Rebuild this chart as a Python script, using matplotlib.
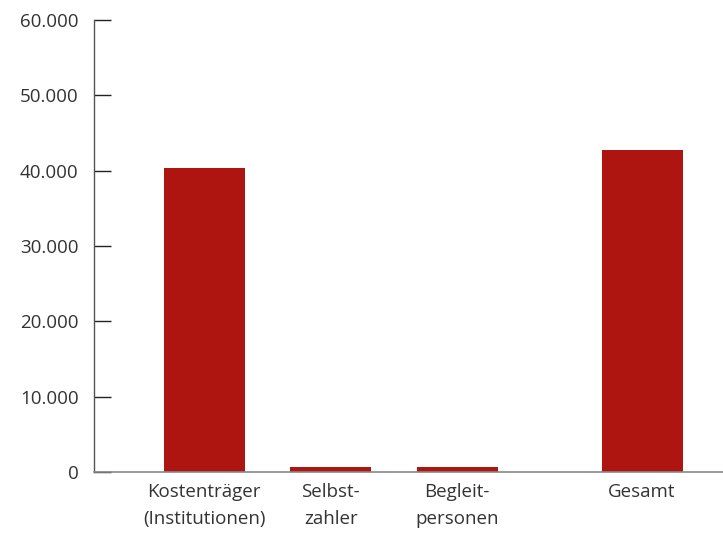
import matplotlib
matplotlib.use("Agg")
import matplotlib.pyplot as plt
from matplotlib.ticker import FuncFormatter

# Daten
kategorien = ["Kostenträger\n(Institutionen)", "Selbst-\nzahler", "Begleit-\npersonen", "Gesamt"]
werte = [40350, 730, 600, 42750]
positionen = [0, 1, 2, 3.46]

plt.rcParams["font.family"] = ["Open Sans", "DejaVu Sans"]

fig = plt.figure(figsize=(7.23, 5.33), dpi=100)
ax = fig.add_axes([94 / 723, 1 - 472 / 533, 1 - 94 / 723, 452 / 533])

ax.bar(positionen, werte, width=0.64, color="#ae1410")

ax.set_ylim(0, 60000)
ax.set_xlim(-0.87, 4.10)
ax.set_yticks(range(0, 60001, 10000))
ax.yaxis.set_major_formatter(FuncFormatter(lambda v, p: f"{int(v):,}".replace(",", ".")))
ax.set_xticks(positionen)
ax.set_xticklabels(kategorien, linespacing=1.6)

for s in ["top", "right"]:
    ax.spines[s].set_visible(False)
ax.spines["left"].set_color("#555555")
ax.spines["bottom"].set_color("#888888")
ax.spines["left"].set_linewidth(1.0)
ax.spines["bottom"].set_linewidth(1.2)

ax.tick_params(axis="y", direction="in", length=12.5, width=1.0, color="#222222",
               labelsize=13.5, labelcolor="#333333", pad=11)
ax.tick_params(axis="x", length=0, labelsize=13.5, labelcolor="#333333", pad=8)

fig.savefig("out.png", dpi=100)
